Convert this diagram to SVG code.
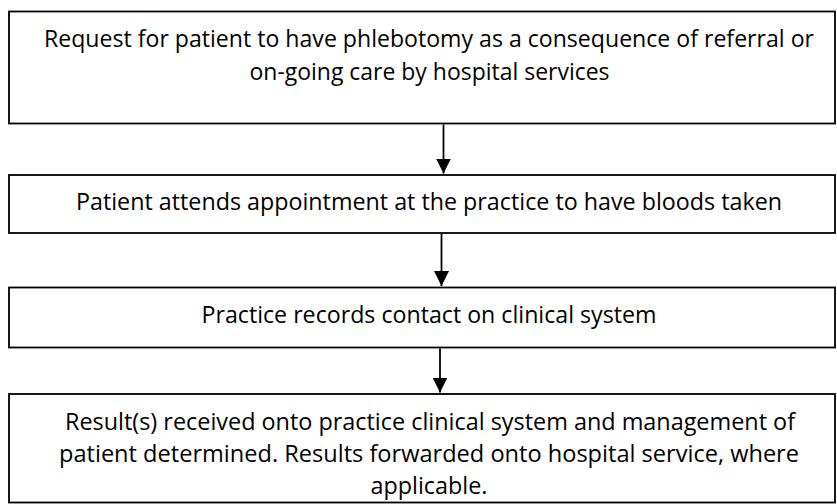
<svg xmlns="http://www.w3.org/2000/svg" width="837" height="504" viewBox="0 0 837 504">
  <style>
    .box { fill: #ffffff; stroke: #000000; stroke-width: 1.8; }
    .lbl { font-family: "Open Sans", "Liberation Sans", sans-serif; font-size: 23.5px; fill: #000000; text-anchor: middle; }
    .conn { stroke: #000000; stroke-width: 1.8; fill: none; marker-end: url(#arrow); }
  </style>
  <defs>
    <marker id="arrow" markerUnits="userSpaceOnUse" markerWidth="16" markerHeight="16" refX="15" refY="7.5" orient="auto">
      <path d="M0,0 L15,7.5 L0,15 Z" fill="#000000"/>
    </marker>
  </defs>
  <rect width="837" height="504" fill="#ffffff"/>
  <g id="node1">
    <rect class="box" x="9" y="11.5" width="826" height="112"/>
    <text class="lbl" x="429" y="47" textLength="770" lengthAdjust="spacingAndGlyphs">Request for patient to have phlebotomy as a consequence of referral or</text>
    <text class="lbl" x="429.5" y="79.5" textLength="360" lengthAdjust="spacingAndGlyphs">on-going care by hospital services</text>
  </g>
  <g id="node2">
    <rect class="box" x="9" y="175" width="826" height="58"/>
    <text class="lbl" x="429" y="210" textLength="706" lengthAdjust="spacingAndGlyphs">Patient attends appointment at the practice to have bloods taken</text>
  </g>
  <g id="node3">
    <rect class="box" x="9" y="287.5" width="826" height="60"/>
    <text class="lbl" x="429" y="322.5" textLength="455" lengthAdjust="spacingAndGlyphs">Practice records contact on clinical system</text>
  </g>
  <g id="node4">
    <rect class="box" x="9" y="394" width="826" height="108.5"/>
    <text class="lbl" x="430" y="429.5" textLength="730" lengthAdjust="spacingAndGlyphs">Result(s) received onto practice clinical system and management of</text>
    <text class="lbl" x="429" y="462" textLength="740" lengthAdjust="spacingAndGlyphs">patient determined. Results forwarded onto hospital service, where</text>
    <text class="lbl" x="429" y="494" textLength="117" lengthAdjust="spacingAndGlyphs">applicable.</text>
  </g>
  <g id="connectors">
    <line class="conn" x1="443.5" y1="124.5" x2="443.5" y2="173.5"/>
    <line class="conn" x1="441.5" y1="234" x2="441.5" y2="286"/>
    <line class="conn" x1="440" y1="348.5" x2="440" y2="392.5"/>
  </g>
</svg>
